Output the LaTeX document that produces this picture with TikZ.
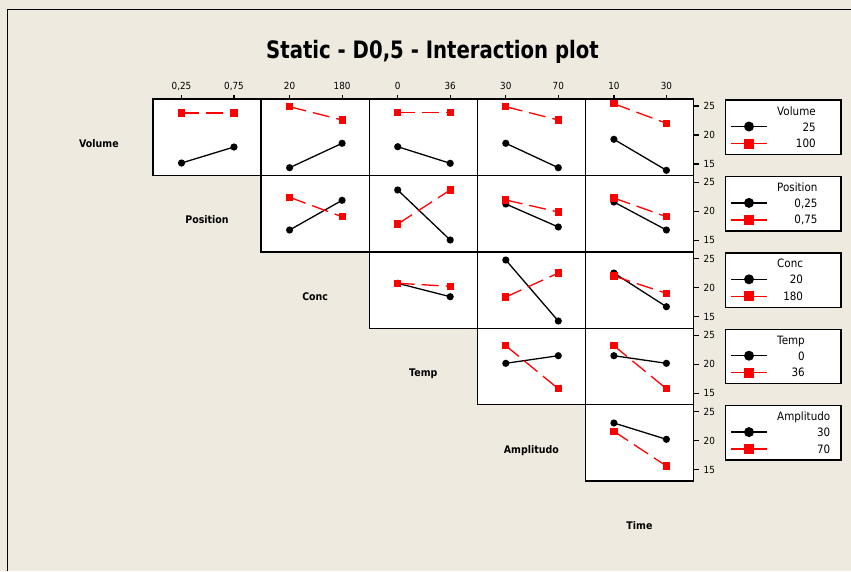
\documentclass[tikz,border=0pt]{standalone}
\usepackage{fontspec}
\setmainfont{DejaVu Sans}[FakeStretch=0.9]
\newfontfamily\ttlfont{DejaVu Sans}[FakeStretch=0.82]
\definecolor{bgc}{HTML}{EEEAE0}
\definecolor{mred}{HTML}{FF0000}
\tikzset{
  panelbox/.style={draw=black, fill=white, line width=1.4pt},
  blkline/.style={black, line width=1.3pt},
  redline/.style={mred, line width=1.3pt, dash pattern=on 17pt off 7pt},
  ticklab/.style={font=\fontsize{9.8}{11}\selectfont, inner sep=0pt},
  rowlab/.style={font=\fontsize{10.5}{12}\selectfont\bfseries, inner sep=0pt},
  legtext/.style={font=\fontsize{11.5}{13}\selectfont, inner sep=0pt},
}
\newcommand\ipanel[5]{%
  \pgfmathsetmacro\ipXa{153+108.1*(#1-1)+28.5}%
  \pgfmathsetmacro\ipXb{153+108.1*(#1-1)+81}%
  \draw[blkline] (\ipXa,#2) -- (\ipXb,#3);
  \fill[black] (\ipXa,#2) circle (3.6);
  \fill[black] (\ipXb,#3) circle (3.6);
  \draw[redline] (\ipXa,#4) -- (\ipXb,#5);
  \fill[mred] (\ipXa-3.6,#4-3.6) rectangle (\ipXa+3.6,#4+3.6);
  \fill[mred] (\ipXb-3.6,#5-3.6) rectangle (\ipXb+3.6,#5+3.6);
}
\begin{document}
\begin{tikzpicture}[x=1pt,y=-1pt]
\useasboundingbox (0,0) rectangle (851,571);
\fill[bgc] (0,0) rectangle (851,571);
\draw[line width=1.5pt] (7.5,571) -- (7.5,9.5) -- (851,9.5);

\node[font=\ttlfont\fontsize{24}{28}\selectfont\bfseries, anchor=base, inner sep=0pt] (title) at (432.5,58) {Static - D0,5 - Interaction plot};

% panels
\foreach \i in {1,...,5}{
  \foreach \j in {\i,...,5}{
    \pgfmathsetmacro\pl{153+108.1*(\j-1)}
    \pgfmathsetmacro\pt{99+76.4*(\i-1)}
    \draw[panelbox] (\pl,\pt) rectangle (\pl+108.1,\pt+76.4);
  }
}

% top axis ticks and labels
\foreach \j/\a/\b in {1/{0,25}/{0,75}, 2/20/180, 3/0/36, 4/30/70, 5/10/30}{
  \pgfmathsetmacro\pl{153+108.1*(\j-1)}
  \draw[line width=1.2pt] (\pl+28.5,99) -- (\pl+28.5,94.5);
  \draw[line width=1.2pt] (\pl+81,99) -- (\pl+81,94.5);
  \node[ticklab, anchor=base] (ta\j) at (\pl+28.5,89.5) {\a};
  \node[ticklab, anchor=base] (tb\j) at (\pl+81,89.5) {\b};
}

% right axis ticks and labels
\foreach \i in {1,...,5}{
  \pgfmathsetmacro\pt{99+76.4*(\i-1)}
  \foreach \d/\v in {7/25, 36/20, 65/15}{
    \draw[line width=1.2pt] (693.5,\pt+\d) -- (698.5,\pt+\d);
    \node[ticklab, anchor=base west] (ra\i\v) at (703.5,\pt+\d+3.5) {\v};
  }
}

% row labels
\foreach \i/\nm in {1/Volume,2/Position,3/Conc,4/Temp,5/Amplitudo,6/Time}{
  \pgfmathsetmacro\rx{153+108.1*(\i-2)+54.05}
  \pgfmathsetmacro\ry{99+76.4*(\i-1)+48.5}
  \node[rowlab, anchor=base] (rl\i) at (\rx,\ry) {\nm};
}

% interaction lines: column, black low, black high, red low, red high
% row 1
\ipanel{1}{163}{147}{113}{113}
\ipanel{2}{167.7}{143.3}{106.7}{120}
\ipanel{3}{146.7}{163.3}{112.7}{112.7}
\ipanel{4}{143.3}{167.7}{106.7}{120}
\ipanel{5}{139.3}{170.3}{103.7}{123.3}
% row 2
\ipanel{2}{230}{200.3}{197.3}{216.7}
\ipanel{3}{190}{240}{224}{190}
\ipanel{4}{204}{227}{200}{212}
\ipanel{5}{202}{230}{198}{216.7}
% row 3
\ipanel{3}{283.3}{296.7}{283.3}{286.3}
\ipanel{4}{260}{321}{297}{273}
\ipanel{5}{273}{306.7}{276}{293.3}
% row 4
\ipanel{4}{363.3}{355.7}{345.7}{388.7}
\ipanel{5}{355.7}{363.3}{345.7}{388.7}
% row 5
\ipanel{5}{423}{439.3}{431.3}{466}

% legends
\foreach \i/\nm/\lo/\hi in {1/Volume/25/100, 2/Position/{0,25}/{0,75}, 3/Conc/20/180, 4/Temp/0/36, 5/Amplitudo/30/70}{
  \pgfmathsetmacro\pt{99+76.4*(\i-1)}
  \draw[panelbox] (725.7,\pt+1) rectangle (841,\pt+55.5);
  \node[legtext, anchor=base west] (lt\i) at (777,\pt+16) {\nm};
  \draw[black, line width=1.3pt] (731,\pt+27.5) -- (767,\pt+27.5);
  \fill[black] (749,\pt+27.5) circle (5);
  \draw[mred, line width=1.3pt] (731,\pt+44.5) -- (767,\pt+44.5);
  \fill[mred] (744,\pt+39.5) rectangle (754,\pt+49.5);
  \path (lt\i.base east) ++(0,16) node[legtext, anchor=base east] (lv\i) {\lo};
  \path (lt\i.base east) ++(0,32.5) node[legtext, anchor=base east] (lw\i) {\hi};
}
\end{tikzpicture}
\end{document}
